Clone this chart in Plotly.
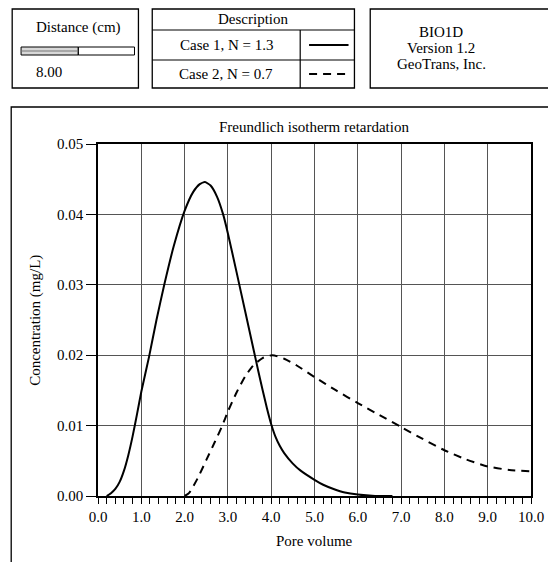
import plotly.graph_objects as go

# Case 1 (N = 1.3), solid curve
case1_pv = [0.2, 0.3, 0.4, 0.5, 0.6, 0.7, 0.8, 0.9, 1.0, 1.18, 1.35, 1.53, 1.75, 2.0, 2.2,
            2.35, 2.47, 2.6, 2.75, 2.89, 3.0, 3.2, 3.4, 3.6, 3.7, 3.8, 3.9, 4.0, 4.1, 4.2,
            4.3, 4.5, 4.68, 5.0, 5.2, 5.44, 5.7, 6.0, 6.4, 6.8]
case1_conc = [0.0, 0.0004, 0.0010, 0.0020, 0.0036, 0.0058, 0.0085, 0.0116, 0.0148, 0.0198,
              0.0250, 0.0300, 0.0355, 0.0405, 0.0432, 0.0443, 0.0446, 0.0441, 0.0425, 0.0400,
              0.0373, 0.0318, 0.0262, 0.0206, 0.0178, 0.0151, 0.0125, 0.0102, 0.0084, 0.0071,
              0.0061, 0.0046, 0.0036, 0.0023, 0.0016, 0.0010, 0.0005, 0.0002, 0.0, 0.0]

# Case 2 (N = 0.7), dashed curve
case2_pv = [2.0, 2.1, 2.3, 2.5, 2.7, 2.87, 3.0, 3.2, 3.4, 3.58, 3.8, 4.03, 4.3, 4.6, 5.0,
            5.5, 6.0, 6.5, 7.0, 7.5, 8.0, 8.5, 9.0, 9.5, 10.0]
case2_conc = [0.0, 0.0004, 0.0025, 0.0051, 0.0077, 0.0100, 0.0120, 0.0147, 0.0170, 0.0185,
              0.0196, 0.0200, 0.0195, 0.0185, 0.0169, 0.0150, 0.0132, 0.0115, 0.0098, 0.0081,
              0.0065, 0.0052, 0.0042, 0.0037, 0.0035]

case_labels = ["Case 1, N = 1.3", "Case 2, N = 0.7"]

FONT = "Liberation Serif"
FS = 15
# the page body has an 8px margin, so the figure is drawn 8px smaller and offset
OFF = 8
W, H = 556 - OFF, 562 - OFF
L, R, T, B = 98, 537, 144, 496  # plot area in page pixels


def px(x):
    return (x - L) / (R - L)


def py(y):
    return (B - y) / (B - T)


def box(x0, y0, x1, y1, **kw):
    d = dict(type="rect", xref="paper", yref="paper",
             x0=px(x0), x1=px(x1), y0=py(y1), y1=py(y0),
             line=dict(color="black", width=1.3), layer="above")
    d.update(kw)
    return d


def hline(x0, x1, y, **kw):
    d = dict(type="line", xref="paper", yref="paper",
             x0=px(x0), x1=px(x1), y0=py(y), y1=py(y),
             line=dict(color="black", width=1.2))
    d.update(kw)
    return d


def text(x, y, s, **kw):
    d = dict(xref="paper", yref="paper", x=px(x), y=py(y), text=s,
             showarrow=False, font=dict(family=FONT, size=FS, color="black"),
             xanchor="center", yanchor="middle")
    d.update(kw)
    return d


fig = go.Figure()
fig.add_trace(go.Scatter(x=case1_pv, y=case1_conc, mode="lines", name=case_labels[0],
                         line=dict(color="black", width=2, shape="spline", smoothing=0.5)))
fig.add_trace(go.Scatter(x=case2_pv, y=case2_conc, mode="lines", name=case_labels[1],
                         line=dict(color="black", width=2, dash="8px,6px",
                                   shape="spline", smoothing=0.6)))

shapes = [
    # outer chart frame (runs off the right and bottom edges)
    box(10, 107, 600, 620),
    # distance box
    box(11, 9, 139, 88),
    box(20, 47, 78, 55, fillcolor="#d8d8d8", line=dict(color="black", width=1)),
    box(78, 47, 135, 55, line=dict(color="black", width=1)),
    hline(20, 78, 51, line=dict(color="#777", width=1)),
    # description table
    box(153, 9, 358, 88),
    hline(153, 358, 30),
    hline(153, 358, 60),
    dict(type="line", xref="paper", yref="paper", x0=px(303), x1=px(303),
         y0=py(30), y1=py(88), line=dict(color="black", width=1.2)),
    hline(312, 352, 45, line=dict(color="black", width=2)),
    hline(312, 352, 74, line=dict(color="black", width=2, dash="8px,6px")),
    # program box
    box(374, 9, 600, 88),
]

annotations = [
    text(78, 28, "Distance (cm)"),
    text(48, 72, "8.00"),
    text(255, 19, "Description"),
    text(228, 45, case_labels[0]),
    text(228, 74, case_labels[1]),
    text(446, 32, "BIO1D"),
    text(446, 48, "Version 1.2"),
    text(446, 64, "GeoTrans, Inc."),
    text(317, 127, "Freundlich isotherm retardation"),
    text(317, 541, "Pore volume"),
    text(34, 320, "Concentration (mg/L)", textangle=-90),
]

fig.update_layout(
    width=W, height=H,
    margin=dict(l=L - OFF, r=W - (R - OFF), t=T - OFF, b=H - (B - OFF), pad=0),
    paper_bgcolor="white", plot_bgcolor="white",
    showlegend=False,
    font=dict(family=FONT, size=FS, color="black"),
    shapes=shapes,
    annotations=annotations,
)
fig.update_xaxes(
    range=[0, 10], dtick=1, tick0=0, tickformat=".1f",
    showline=True, linecolor="black", linewidth=1.5, mirror=True,
    showgrid=True, gridcolor="#555", gridwidth=1,
    ticks="outside", ticklen=6, tickcolor="black", tickwidth=1.3,
    minor=dict(dtick=0.2, ticks="outside", ticklen=6, tickcolor="black", tickwidth=1.3,
               showgrid=False),
    zeroline=False, fixedrange=True,
)
fig.update_yaxes(
    range=[0, 0.05], dtick=0.01, tick0=0, tickformat=".2f",
    showline=True, linecolor="black", linewidth=1.5, mirror=True,
    showgrid=True, gridcolor="#555", gridwidth=1,
    ticks="outside", ticklen=10, tickcolor="black", tickwidth=1.3,
    zeroline=False, fixedrange=True,
)

fig.write_html("out.html")
